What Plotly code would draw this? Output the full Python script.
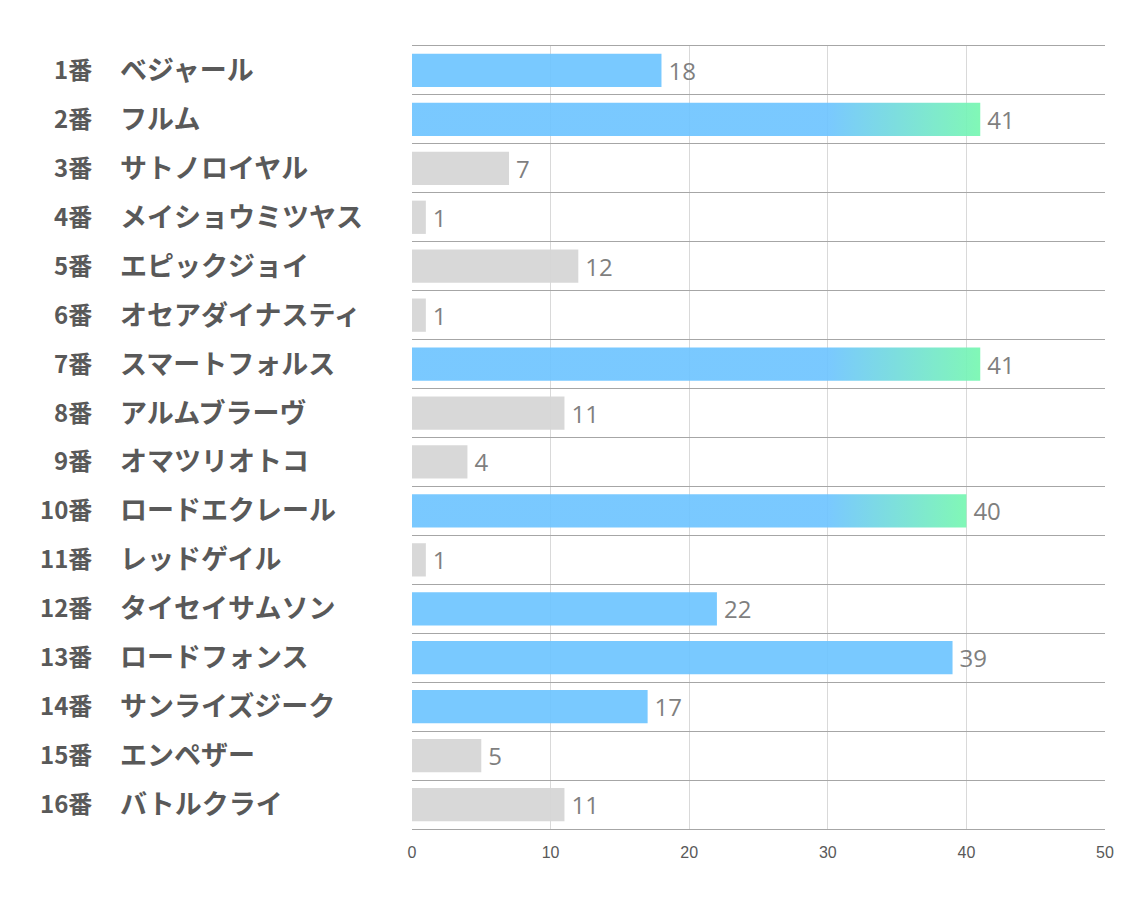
import plotly.graph_objects as go

numbers = ["1番", "2番", "3番", "4番", "5番", "6番", "7番", "8番",
           "9番", "10番", "11番", "12番", "13番", "14番", "15番", "16番"]
names = ["ベジャール", "フルム", "サトノロイヤル", "メイショウミツヤス", "エピックジョイ",
         "オセアダイナスティ", "スマートフォルス", "アルムブラーヴ", "オマツリオトコ",
         "ロードエクレール", "レッドゲイル", "タイセイサムソン", "ロードフォンス",
         "サンライズジーク", "エンペザー", "バトルクライ"]
values = [18, 41, 7, 1, 12, 1, 41, 11, 4, 40, 1, 22, 39, 17, 5, 11]
x_ticks = [0, 10, 20, 30, 40, 50]

BLUE = "rgba(110,196,255,0.92)"
GREEN = "rgba(118,247,176,0.92)"
GRAY = "rgba(214,214,214,0.95)"

n = len(values)
order = sorted(range(n), key=lambda i: -values[i])
top3 = set(order[:3])
top7 = set(order[:7])

colors = []
for i in range(n):
    if i in top3:
        colors.append("rgba(0,0,0,0)")
    elif i in top7:
        colors.append(BLUE)
    else:
        colors.append(GRAY)

idx = list(range(n))
W = 0.68
fig = go.Figure()

# gradient bars (top 3)
for i in sorted(top3):
    v = values[i]
    fig.add_trace(go.Scatter(
        x=[0, v, v, 0, 0],
        y=[i - W / 2, i - W / 2, i + W / 2, i + W / 2, i - W / 2],
        mode="lines", line=dict(width=0), fill="toself",
        fillgradient=dict(type="horizontal", start=30, stop=v,
                          colorscale=[[0, BLUE], [1, GREEN]]),
        hoverinfo="skip", showlegend=False,
    ))

fig.add_trace(go.Bar(
    x=values, y=idx, orientation="h", width=W,
    marker=dict(color=colors, line=dict(width=0)),
    text=["\u2009" + str(v) for v in values], textposition="outside",
    textfont=dict(family="Open Sans", size=24, color="#7f7f7f"),
    cliponaxis=False, showlegend=False,
))

L, R, T, B = 412, 1105, 46, 829
pw = R - L
for i in range(n):
    fig.add_annotation(x=(94 - L) / pw, xref="paper", y=i, yref="y",
                       text=numbers[i], showarrow=False, xanchor="right", yshift=2,
                       font=dict(family="Noto Sans CJK JP", size=24, color="#595959", weight="bold"))
    fig.add_annotation(x=(118 - L) / pw, xref="paper", y=i, yref="y",
                       text=names[i], showarrow=False, xanchor="left", yshift=2,
                       font=dict(family="Noto Sans CJK JP", size=27, color="#595959", weight="bold"))

fig.update_layout(
    width=1134, height=907,
    margin=dict(l=L, r=1134 - R, t=T, b=907 - B),
    paper_bgcolor="white", plot_bgcolor="white",
    xaxis=dict(range=[0, 50], tickvals=x_ticks, showgrid=True, gridcolor="#d9d9d9",
               gridwidth=1, zeroline=False, showline=True, mirror=True,
               linecolor="#a6a6a6", linewidth=1, ticks="", ticklabelstandoff=9,
               tickfont=dict(family="Liberation Sans", size=16, color="#595959")),
    yaxis=dict(range=[n - 0.5, -0.5], tickvals=[k - 0.5 for k in range(n + 1)],
               showticklabels=False, showgrid=True, gridcolor="#a6a6a6", gridwidth=1,
               zeroline=False, showline=False, ticks=""),
)

fig.write_html("out.html")
